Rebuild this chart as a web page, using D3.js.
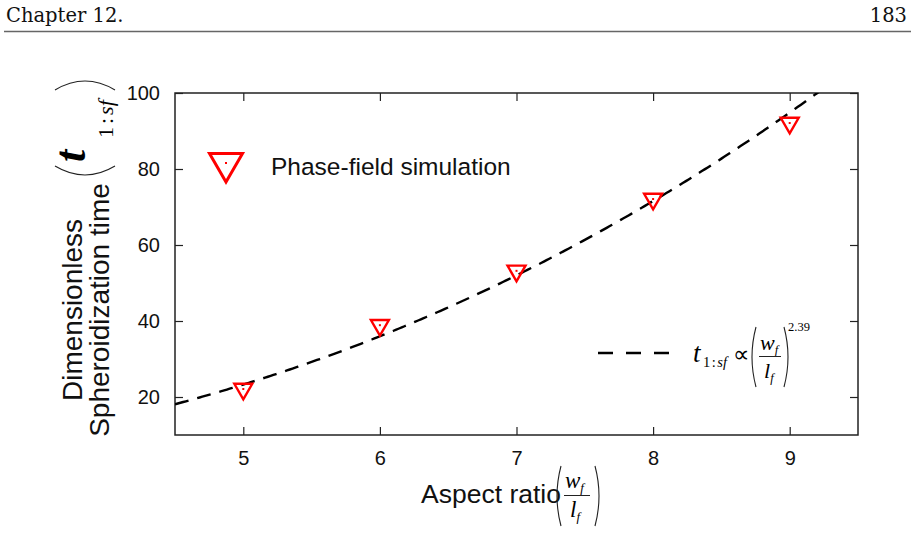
<!DOCTYPE html>
<html><head><meta charset="utf-8">
<script src="https://cdn.jsdelivr.net/npm/d3@7"></script>
<style>body{margin:0;background:#fff} svg{display:block}</style>
</head><body><svg id="c" width="915" height="533"></svg>
<script>
// ---- data ----
const aspectRatios = [5, 6, 7, 8, 9];
const spheroTimes  = [22.1, 38.9, 53.2, 72.1, 92.1];
const xTickValues  = [5, 6, 7, 8, 9];
const yTickValues  = [20, 40, 60, 80, 100];
const xDomain = [4.5, 9.5];
const yDomain = [10, 100];
// power-law fit shown in legend: t ∝ (w/l)^2.39
const fitCoeff = 0.497;
const fitExponent = 2.39;
const headerLeft = "Chapter 12.";
const headerRight = "183";
const legendMarkerLabel = "Phase-field simulation";

// ---- layout ----
const svg = d3.select("#c");
const L = 175, R = 858, T = 93, B = 435;
const x = d3.scaleLinear().domain(xDomain).range([L, R]);
const y = d3.scaleLinear().domain(yDomain).range([B, T]);
const SANS = "'Liberation Sans', Arial, Helvetica, sans-serif";
const SERIF = "'Liberation Serif', 'Times New Roman', serif";
const AX = "#222";

// header
svg.append("text").attr("x", 6).attr("y", 22).attr("font-family", "'DejaVu Serif', serif")
  .attr("font-size", 19.5).attr("fill", "#111").text(headerLeft);
svg.append("text").attr("x", 907).attr("y", 22).attr("text-anchor", "end")
  .attr("font-family", "'DejaVu Serif', serif").attr("font-size", 19.5).attr("fill", "#111").text(headerRight);
svg.append("line").attr("x1", 4).attr("x2", 911).attr("y1", 31.5).attr("y2", 31.5)
  .attr("stroke", "#666").attr("stroke-width", 1.5);

// clip
svg.append("clipPath").attr("id", "clip").append("rect")
  .attr("x", L).attr("y", T).attr("width", R - L).attr("height", B - T);

// axes (ticks inward, mirrored)
const tl = 8;
const axB = d3.axisBottom(x).tickValues(xTickValues).tickSize(-tl).tickPadding(16).tickFormat(d3.format("d"));
const axT = d3.axisTop(x).tickValues(xTickValues).tickSize(-tl).tickFormat("");
const axLft = d3.axisLeft(y).tickValues(yTickValues).tickSize(-tl).tickPadding(15).tickFormat(d3.format("d"));
const axRt = d3.axisRight(y).tickValues(yTickValues).tickSize(-tl).tickFormat("");
function style(g) {
  g.select(".domain").remove();
  g.selectAll(".tick line").attr("stroke", AX).attr("stroke-width", 1.2);
  g.selectAll(".tick text").attr("font-family", SANS).attr("font-size", 20).attr("fill", "#111");
}
svg.append("g").attr("transform", `translate(0,${B})`).call(axB).call(style);
svg.append("g").attr("transform", `translate(0,${T})`).call(axT).call(style);
svg.append("g").attr("transform", `translate(${L},0)`).call(axLft).call(style);
svg.append("g").attr("transform", `translate(${R},0)`).call(axRt).call(style);
svg.append("rect").attr("x", L).attr("y", T).attr("width", R - L).attr("height", B - T)
  .attr("fill", "none").attr("stroke", AX).attr("stroke-width", 1.5);

// fit curve
const fitX = d3.range(xDomain[0], xDomain[1] + 1e-9, 0.02);
const line = d3.line().x(d => x(d)).y(d => y(fitCoeff * Math.pow(d, fitExponent)));
svg.append("path").datum(fitX).attr("clip-path", "url(#clip)")
  .attr("d", line).attr("fill", "none").attr("stroke", "#000")
  .attr("stroke-width", 2.4).attr("stroke-dasharray", "14,9");

// markers
function tri(s) {
  const h = s * Math.sqrt(3) / 2;
  return `M${-s/2},${-h/3}L${s/2},${-h/3}L0,${2*h/3}Z`;
}
const pts = svg.append("g");
aspectRatios.forEach((a, i) => {
  const g = pts.append("g").attr("transform", `translate(${x(a)},${y(spheroTimes[i])})`);
  g.append("path").attr("d", tri(18)).attr("fill", "none").attr("stroke", "#f00").attr("stroke-width", 2.4);
  g.append("rect").attr("x", -1).attr("y", -1).attr("width", 2).attr("height", 2).attr("fill", "#f00");
});

// legend 1
const lg = svg.append("g").attr("transform", "translate(226,163)");
lg.append("path").attr("d", tri(33)).attr("fill", "none").attr("stroke", "#f00").attr("stroke-width", 3);
lg.append("rect").attr("x", -1).attr("y", -1).attr("width", 2).attr("height", 2).attr("fill", "#f00");
svg.append("text").attr("x", 271).attr("y", 175).attr("font-family", SANS).attr("font-size", 24.5)
  .attr("fill", "#111").text(legendMarkerLabel);

// legend 2 (fit)
svg.append("line").attr("x1", 598).attr("x2", 670).attr("y1", 353).attr("y2", 353)
  .attr("stroke", "#000").attr("stroke-width", 2.4).attr("stroke-dasharray", "15,13");
function paren(g, cx, y0, y1, dir, w) {
  const ym = (y0 + y1) / 2;
  g.append("path").attr("d", `M${cx},${y0}Q${cx - dir * w * 2},${ym} ${cx},${y1}`)
    .attr("fill", "none").attr("stroke", "#222").attr("stroke-width", 1.1);
}
const f2 = svg.append("g");
f2.append("text").attr("x", 693).attr("y", 362).attr("font-family", SERIF).attr("font-style", "italic")
  .attr("font-size", 27).text("t");
f2.append("text").attr("x", 703).attr("y", 367).attr("font-family", SERIF).attr("font-size", 14.5)
  .html('1<tspan dx="1.5">:</tspan><tspan dx="1.5" font-style="italic">sf</tspan>');
f2.append("text").attr("x", 733).attr("y", 362).attr("font-family", SERIF).attr("font-size", 23).text("∝");
paren(f2, 756, 327, 387, 1, 4);
f2.append("text").attr("x", 760).attr("y", 350).attr("font-family", SERIF).attr("font-style", "italic")
  .attr("font-size", 22).html('w<tspan font-size="12.5" dy="4">f</tspan>');
f2.append("line").attr("x1", 759).attr("x2", 781).attr("y1", 356.5).attr("y2", 356.5).attr("stroke", "#222").attr("stroke-width", 1);
f2.append("text").attr("x", 764).attr("y", 378).attr("font-family", SERIF).attr("font-style", "italic")
  .attr("font-size", 22).html('l<tspan font-size="12.5" dy="4">f</tspan>');
paren(f2, 784, 327, 387, -1, 4);
f2.append("text").attr("x", 788).attr("y", 331).attr("font-family", SERIF).attr("font-size", 12.5).text("2.39");

// x axis title
svg.append("text").attr("x", 421).attr("y", 503).attr("font-family", SANS).attr("font-size", 26.5)
  .attr("fill", "#111").text("Aspect ratio");
const fx = svg.append("g");
paren(fx, 561, 466, 526, 1, 4);
fx.append("text").attr("x", 565).attr("y", 488).attr("font-family", SERIF).attr("font-style", "italic")
  .attr("font-size", 23).html('w<tspan font-size="13" dy="4">f</tspan>');
fx.append("line").attr("x1", 564).attr("x2", 590).attr("y1", 495.5).attr("y2", 495.5).attr("stroke", "#222").attr("stroke-width", 1);
fx.append("text").attr("x", 570).attr("y", 517).attr("font-family", SERIF).attr("font-style", "italic")
  .attr("font-size", 23).html('l<tspan font-size="13" dy="4">f</tspan>');
paren(fx, 595, 466, 526, -1, 4);

// y axis title (rotated)
const yg = svg.append("g").attr("transform", "translate(109,310) rotate(-90)");
yg.append("text").attr("x", 0).attr("y", -27).attr("text-anchor", "middle").attr("font-family", SANS)
  .attr("font-size", 28).attr("fill", "#111").text("Dimensionless");
yg.append("text").attr("x", 0).attr("y", 0).attr("text-anchor", "middle").attr("font-family", SANS)
  .attr("font-size", 28).attr("fill", "#111").text("Spheroidization time");
yg.append("path").attr("d", "M144,-54Q126,-24 144,6").attr("fill", "none").attr("stroke", "#222").attr("stroke-width", 1.1);
yg.append("text").attr("x", 148).attr("y", -24).attr("font-family", SERIF).attr("font-style", "italic")
  .attr("font-weight", "bold").attr("font-size", 44).text("t");
yg.append("text").attr("x", 172).attr("y", 4).attr("font-family", SERIF).attr("font-size", 22)
  .html('1<tspan dx="3">:</tspan><tspan dx="3" font-style="italic">sf</tspan>');
yg.append("path").attr("d", "M220,-54Q238,-24 220,6").attr("fill", "none").attr("stroke", "#222").attr("stroke-width", 1.1);
</script></body></html>
